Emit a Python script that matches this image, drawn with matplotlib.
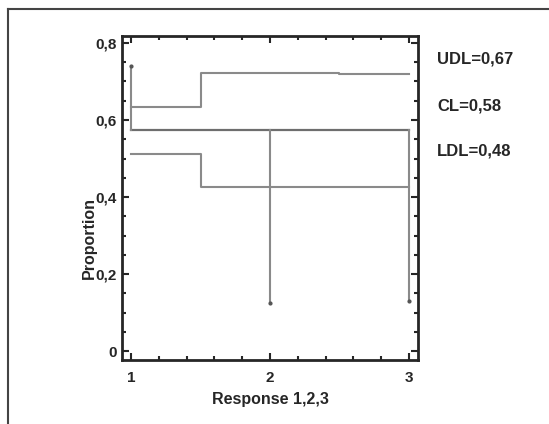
import matplotlib.pyplot as plt
from matplotlib.lines import Line2D
from matplotlib.ticker import MultipleLocator, FuncFormatter
import numpy as np

# %% Data
response = [1, 2, 3]
proportion = [0.74, 0.125, 0.13]
center_line = 0.575
udl = [0.635, 0.723, 0.72]
ldl = [0.512, 0.427, 0.427]
limit_labels = ['UDL=0,67', 'CL=0,58', 'LDL=0,48']

# %% Style
line_grey = '#8a8a8a'
dark = '#262626'
plt.rcParams['font.family'] = ['Liberation Sans', 'DejaVu Sans']
plt.rcParams['font.weight'] = 'bold'

fig = plt.figure(figsize=(5.49, 4.24), dpi=100)
ax = fig.add_axes([0.2222, 0.1509, 0.5392, 0.7642])

# center line and decision limits
ax.plot([response[0], response[-1]], [center_line, center_line], color='#6e6e6e', lw=1.6)
ax.step(response, udl, where='mid', color=line_grey, lw=1.5)
ax.step(response, ldl, where='mid', color=line_grey, lw=1.5)

# stems from the center line to each proportion
for x, p in zip(response, proportion):
    ax.plot([x, x], [center_line, p], color=line_grey, lw=1.5)
ax.plot(response, proportion, ls='none', marker='o', ms=2, color='#555555')

ax.set_xlim(0.935, 3.065)
ax.set_ylim(-0.023, 0.818)

ax.xaxis.set_major_locator(MultipleLocator(1))
ax.xaxis.set_minor_locator(MultipleLocator(0.2))
ax.yaxis.set_major_locator(MultipleLocator(0.2))
ax.yaxis.set_minor_locator(MultipleLocator(0.05))
comma = FuncFormatter(lambda v, pos: ('%g' % round(v, 2)).replace('.', ','))
ax.xaxis.set_major_formatter(comma)
ax.yaxis.set_major_formatter(comma)

ax.tick_params(which='both', direction='in', top=True, right=True, color=dark,
               labelsize=11, labelcolor=dark)
ax.tick_params(which='major', length=5, width=1.5)
ax.tick_params(which='minor', length=3, width=1.5)
ax.tick_params(axis='x', which='major', pad=8)
ax.tick_params(axis='y', which='major', pad=4)
for s in ax.spines.values():
    s.set_linewidth(2)
    s.set_color(dark)

ax.set_xlabel('Response 1,2,3', fontsize=11.5, color=dark, fontweight='bold')
ax.xaxis.set_label_coords(0.5, -0.098)
ax.set_ylabel('Proportion', fontsize=11.5, color=dark, fontweight='bold', va='center')
ax.yaxis.set_label_coords(-0.111, 0.377)

for lab, yy in zip(limit_labels, [0.861, 0.750, 0.644]):
    fig.text(0.796, yy, lab, fontsize=12, color=dark, fontweight='bold', va='center')

# outer frame (top and left edges visible)
fig.add_artist(Line2D([8 / 549, 8 / 549], [0, 1 - 9 / 424], transform=fig.transFigure,
                      color='#444444', lw=1.5))
fig.add_artist(Line2D([8 / 549, 1], [1 - 9 / 424, 1 - 9 / 424], transform=fig.transFigure,
                      color='#444444', lw=1.5))

fig.savefig('out.png', dpi=100)
